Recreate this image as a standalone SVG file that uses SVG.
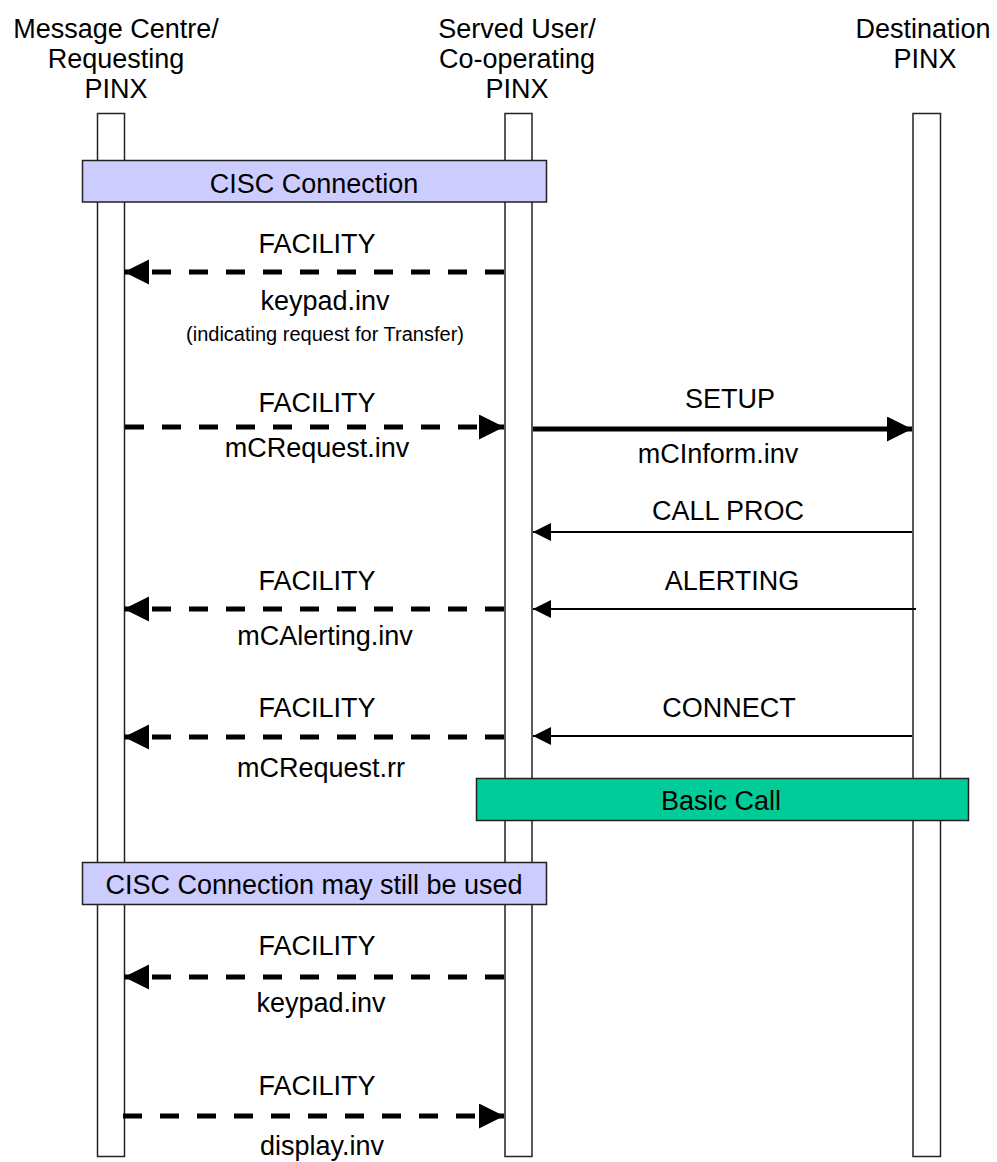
<svg xmlns="http://www.w3.org/2000/svg" width="997" height="1162" viewBox="0 0 997 1162">
<defs>
<style>
text{font-family:"Liberation Sans",Arial,sans-serif;fill:#000;text-anchor:middle}
.t{font-size:27px}
.s{font-size:20px}
.bar{fill:#fff;stroke:#222;stroke-width:1.5}
.box{stroke:#222;stroke-width:1.5}
.dash{stroke:#000;stroke-width:5;stroke-dasharray:19 18;fill:none}
.solid{stroke:#000;stroke-width:5;fill:none}
.thin{stroke:#000;stroke-width:2;fill:none}
</style>
<marker id="big" markerUnits="userSpaceOnUse" markerWidth="26" markerHeight="26" refX="25" refY="12.5" orient="auto">
<path d="M0,0 L25,12.5 L0,25 Z" fill="#000"/>
</marker>
<marker id="small" markerUnits="userSpaceOnUse" markerWidth="19" markerHeight="19" refX="18" refY="9" orient="auto">
<path d="M0,0 L18,9 L0,18 Z" fill="#000"/>
</marker>
</defs>
<rect width="997" height="1162" fill="#fff"/>
<g id="mc">
<text class="t" x="116" y="38">Message Centre/</text>
<text class="t" x="116" y="68">Requesting</text>
<text class="t" x="116" y="98">PINX</text>
<rect class="bar" x="97.5" y="113.5" width="27" height="1043"/>
</g>
<g id="su">
<text class="t" x="517" y="38">Served User/</text>
<text class="t" x="517" y="68">Co-operating</text>
<text class="t" x="517" y="98">PINX</text>
<rect class="bar" x="505" y="113.5" width="27" height="1043"/>
</g>
<g id="dest">
<text class="t" x="923" y="38">Destination</text>
<text class="t" x="925" y="68">PINX</text>
<rect class="bar" x="913" y="113.5" width="27.5" height="1043"/>
</g>
<g id="cisc1">
<rect class="box" x="82.5" y="160.5" width="464" height="41.5" fill="#CCCCFF"/>
<text class="t" x="314" y="193">CISC Connection</text>
</g>
<g id="basic">
<rect class="box" x="476.5" y="778.5" width="492" height="42" fill="#00CC99"/>
<text class="t" x="721" y="810">Basic Call</text>
</g>
<g id="cisc2">
<rect class="box" x="82.5" y="862.5" width="464" height="42" fill="#CCCCFF"/>
<text class="t" x="314" y="894">CISC Connection may still be used</text>
</g>
<g id="connectors">
<line class="dash" x1="504" y1="272" x2="124" y2="272" marker-end="url(#big)"/>
<line class="dash" x1="125" y1="427" x2="504" y2="427" marker-end="url(#big)"/>
<line class="solid" x1="533" y1="429" x2="912" y2="429" marker-end="url(#big)"/>
<line class="thin" x1="912" y1="532" x2="533" y2="532" marker-end="url(#small)"/>
<line class="thin" x1="916" y1="609" x2="533" y2="609" marker-end="url(#small)"/>
<line class="dash" x1="504" y1="609" x2="124" y2="609" marker-end="url(#big)"/>
<line class="thin" x1="912" y1="736" x2="533" y2="736" marker-end="url(#small)"/>
<line class="dash" x1="504" y1="737" x2="124" y2="737" marker-end="url(#big)"/>
<line class="dash" x1="504" y1="977" x2="124" y2="977" marker-end="url(#big)"/>
<line class="dash" x1="123" y1="1116" x2="504" y2="1116" marker-end="url(#big)"/>
</g>
<g id="labels">
<text class="t" x="317" y="253">FACILITY</text>
<text class="t" x="325" y="310">keypad.inv</text>
<text class="s" x="325" y="341">(indicating request for Transfer)</text>
<text class="t" x="317" y="412">FACILITY</text>
<text class="t" x="317" y="457">mCRequest.inv</text>
<text class="t" x="730" y="408">SETUP</text>
<text class="t" x="718" y="463">mCInform.inv</text>
<text class="t" x="728" y="520">CALL PROC</text>
<text class="t" x="732" y="590">ALERTING</text>
<text class="t" x="317" y="590">FACILITY</text>
<text class="t" x="325" y="645">mCAlerting.inv</text>
<text class="t" x="317" y="717">FACILITY</text>
<text class="t" x="729" y="717">CONNECT</text>
<text class="t" x="321" y="777">mCRequest.rr</text>
<text class="t" x="317" y="955">FACILITY</text>
<text class="t" x="321" y="1012">keypad.inv</text>
<text class="t" x="317" y="1095">FACILITY</text>
<text class="t" x="322" y="1155">display.inv</text>
</g>
</svg>
